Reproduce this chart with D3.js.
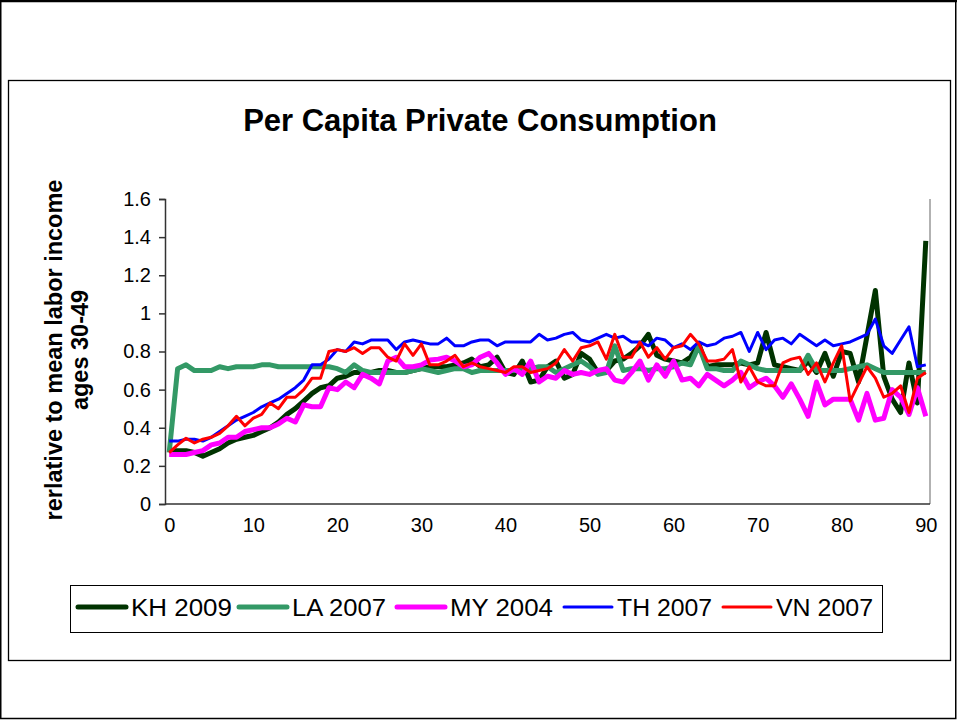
<!DOCTYPE html>
<html>
<head>
<meta charset="utf-8">
<script src="https://cdn.jsdelivr.net/npm/d3@7"></script>
<style>
body { margin:0; background:#fff; }
svg { display:block; font-family:"Liberation Sans", Arial, sans-serif; }
</style>
</head>
<body>
<div id="chart"></div>
<script>
var ages = d3.range(0, 91);
var yTicks = [0, 0.2, 0.4, 0.6, 0.8, 1, 1.2, 1.4, 1.6];
var xTicks = [0, 10, 20, 30, 40, 50, 60, 70, 80, 90];
var seriesNames = ["KH 2009", "LA 2007", "MY 2004", "TH 2007", "VN 2007"];

var kh = [0.28,0.28,0.28,0.27,0.25,0.27,0.29,0.32,0.34,0.35,0.36,0.38,0.40,0.43,0.47,0.50,0.54,0.58,0.61,0.62,
  0.66,0.67,0.69,0.69,0.69,0.70,0.70,0.69,0.69,0.70,0.71,0.72,0.72,0.72,0.73,0.74,0.76,0.72,0.73,0.77,
  0.69,0.68,0.75,0.64,0.65,0.72,0.75,0.66,0.68,0.79,0.76,0.69,0.70,0.75,0.76,0.79,0.83,0.89,0.78,0.76,
  0.75,0.74,0.77,0.84,0.72,0.73,0.73,0.73,0.74,0.73,0.74,0.90,0.73,0.72,0.71,0.70,0.75,0.69,0.79,0.67,
  0.80,0.79,0.64,0.88,1.12,0.67,0.55,0.48,0.74,0.53,1.38];
var la = [0.27,0.71,0.73,0.70,0.70,0.70,0.72,0.71,0.72,0.72,0.72,0.73,0.73,0.72,0.72,0.72,0.72,0.72,0.72,0.72,
  0.71,0.69,0.73,0.70,0.69,0.69,0.69,0.69,0.69,0.70,0.71,0.70,0.69,0.70,0.71,0.71,0.69,0.70,0.70,0.70,
  0.70,0.70,0.71,0.71,0.72,0.72,0.69,0.71,0.73,0.75,0.72,0.68,0.69,0.83,0.70,0.71,0.71,0.70,0.71,0.71,
  0.72,0.74,0.73,0.83,0.71,0.71,0.70,0.70,0.75,0.73,0.71,0.70,0.70,0.70,0.70,0.70,0.78,0.70,0.70,0.70,
  0.70,0.71,0.72,0.73,0.71,0.69,0.69,0.69,0.69,0.69,0.69];
var my = [0.26,0.26,0.26,0.27,0.28,0.31,0.32,0.35,0.35,0.38,0.39,0.40,0.40,0.42,0.45,0.43,0.52,0.51,0.51,0.61,
  0.60,0.64,0.61,0.68,0.66,0.63,0.75,0.77,0.72,0.72,0.73,0.755,0.76,0.77,0.75,0.72,0.73,0.77,0.79,0.74,
  0.68,0.71,0.68,0.75,0.64,0.67,0.66,0.70,0.68,0.69,0.68,0.70,0.71,0.65,0.64,0.69,0.75,0.65,0.73,0.67,
  0.75,0.65,0.66,0.62,0.68,0.65,0.62,0.65,0.69,0.61,0.64,0.66,0.62,0.56,0.63,0.55,0.46,0.64,0.52,0.55,
  0.55,0.55,0.44,0.58,0.44,0.45,0.60,0.56,0.47,0.61,0.46];
var th = [0.33,0.33,0.34,0.34,0.33,0.35,0.38,0.41,0.44,0.46,0.48,0.51,0.53,0.55,0.58,0.61,0.65,0.73,0.73,0.76,
  0.81,0.80,0.85,0.84,0.86,0.86,0.86,0.81,0.85,0.86,0.85,0.84,0.84,0.87,0.83,0.83,0.85,0.86,0.86,0.83,
  0.85,0.85,0.85,0.85,0.89,0.86,0.87,0.89,0.90,0.86,0.85,0.87,0.89,0.87,0.88,0.85,0.85,0.83,0.87,0.86,
  0.82,0.84,0.81,0.85,0.83,0.84,0.87,0.88,0.90,0.80,0.90,0.81,0.86,0.87,0.84,0.89,0.86,0.83,0.86,0.83,
  0.84,0.85,0.87,0.89,0.97,0.83,0.79,0.86,0.93,0.72,0.73];
var vn = [0.27,0.31,0.345,0.32,0.34,0.35,0.37,0.41,0.46,0.41,0.45,0.47,0.53,0.50,0.56,0.56,0.60,0.66,0.66,0.80,
  0.81,0.80,0.82,0.79,0.82,0.82,0.77,0.75,0.84,0.78,0.84,0.73,0.73,0.75,0.78,0.72,0.74,0.72,0.71,0.70,
  0.69,0.72,0.72,0.69,0.70,0.71,0.74,0.81,0.75,0.82,0.83,0.85,0.76,0.89,0.77,0.77,0.85,0.77,0.82,0.76,
  0.82,0.83,0.89,0.84,0.75,0.75,0.76,0.81,0.64,0.72,0.64,0.62,0.62,0.74,0.76,0.77,0.68,0.74,0.64,0.74,
  0.83,0.54,0.63,0.72,0.66,0.56,0.58,0.62,0.48,0.66,0.69];

var seriesValues = [kh, la, my, th, vn];
var seriesColors = ["#003300", "#339966", "#ff00ff", "#0000ff", "#ff0000"];
var seriesWidths = [5, 5, 5, 3, 3];

function drawChart() {
  var W = 957, H = 720;
  var svg = d3.select("#chart").append("svg").attr("width", W).attr("height", H);

  // outer frame and chart area frame
  svg.append("rect").attr("x", 0.75).attr("y", 1).attr("width", W - 2).attr("height", H - 2.5)
    .attr("fill", "none").attr("stroke", "#000").attr("stroke-width", 1.5);
  svg.append("line").attr("x1", 0).attr("x2", W).attr("y1", 1).attr("y2", 1)
    .attr("stroke", "#000").attr("stroke-width", 2.5);
  svg.append("rect").attr("x", 8.5).attr("y", 80.5).attr("width", 942).attr("height", 580)
    .attr("fill", "#fff").attr("stroke", "#000").attr("stroke-width", 1.3);

  var pLeft = 165, pRight = 930, pTop = 199, pBottom = 504;
  var x = d3.scalePoint().domain(ages).range([pLeft, pRight]).padding(0.5);
  var y = d3.scaleLinear().domain([0, 1.6]).range([pBottom, pTop]);

  svg.append("text").attr("x", 480).attr("y", 131).attr("text-anchor", "middle")
    .attr("font-size", 31).attr("font-weight", "bold").text("Per Capita Private Consumption");

  // right edge of plot area
  svg.append("line").attr("x1", pRight).attr("x2", pRight).attr("y1", pTop).attr("y2", pBottom)
    .attr("stroke", "#999").attr("stroke-width", 1.5);

  var yAxis = svg.append("g").attr("transform", "translate(" + pLeft + ",0)")
    .call(d3.axisLeft(y).tickValues(yTicks).tickSize(6).tickPadding(8).tickFormat(d3.format("")));
  yAxis.selectAll("text").attr("font-size", 20).attr("fill", "#000").attr("font-family", "Liberation Sans, Arial");
  yAxis.selectAll("line, path").attr("stroke", "#333").attr("stroke-width", 1.5);

  var xAxis = svg.append("g").attr("transform", "translate(0," + pBottom + ")")
    .call(d3.axisBottom(x).tickValues(xTicks).tickSize(0).tickPadding(14));
  xAxis.select("path").attr("d", "M" + pLeft + ",0H" + pRight);
  xAxis.selectAll("text").attr("font-size", 20).attr("fill", "#000").attr("font-family", "Liberation Sans, Arial");
  xAxis.selectAll("path").attr("stroke", "#333").attr("stroke-width", 1.5);

  var yTitle = svg.append("text").attr("transform", "translate(62,350) rotate(-90)")
    .attr("text-anchor", "middle").attr("font-size", 23.5).attr("font-weight", "bold");
  yTitle.append("tspan").attr("x", 0).attr("dy", 0).text("rerlative to mean labor income");
  yTitle.append("tspan").attr("x", 0).attr("dy", 26).text("ages 30-49");

  var line = d3.line().x(function(d, i) { return x(ages[i]); }).y(function(d) { return y(d); });

  seriesValues.forEach(function(vals, s) {
    svg.append("path").datum(vals).attr("d", line).attr("fill", "none")
      .attr("stroke", seriesColors[s]).attr("stroke-width", seriesWidths[s])
      .attr("stroke-linejoin", "round");
  });

  // legend
  var lg = svg.append("g");
  lg.append("rect").attr("x", 70.5).attr("y", 585.5).attr("width", 812).attr("height", 47)
    .attr("fill", "#fff").attr("stroke", "#000").attr("stroke-width", 1);
  var legendX = [78, 239, 397, 564, 723];
  var legendW = [101, 94, 103, 95, 97];
  seriesNames.forEach(function(name, s) {
    lg.append("line").attr("x1", legendX[s]).attr("x2", legendX[s] + 48).attr("y1", 607).attr("y2", 607)
      .attr("stroke", seriesColors[s]).attr("stroke-width", seriesWidths[s]).attr("stroke-linecap", "round");
    lg.append("text").attr("x", legendX[s] + 53).attr("y", 616).attr("font-size", 23)
      .attr("textLength", legendW[s]).attr("lengthAdjust", "spacingAndGlyphs").text(name);
  });
}
drawChart();
</script>
</body>
</html>
